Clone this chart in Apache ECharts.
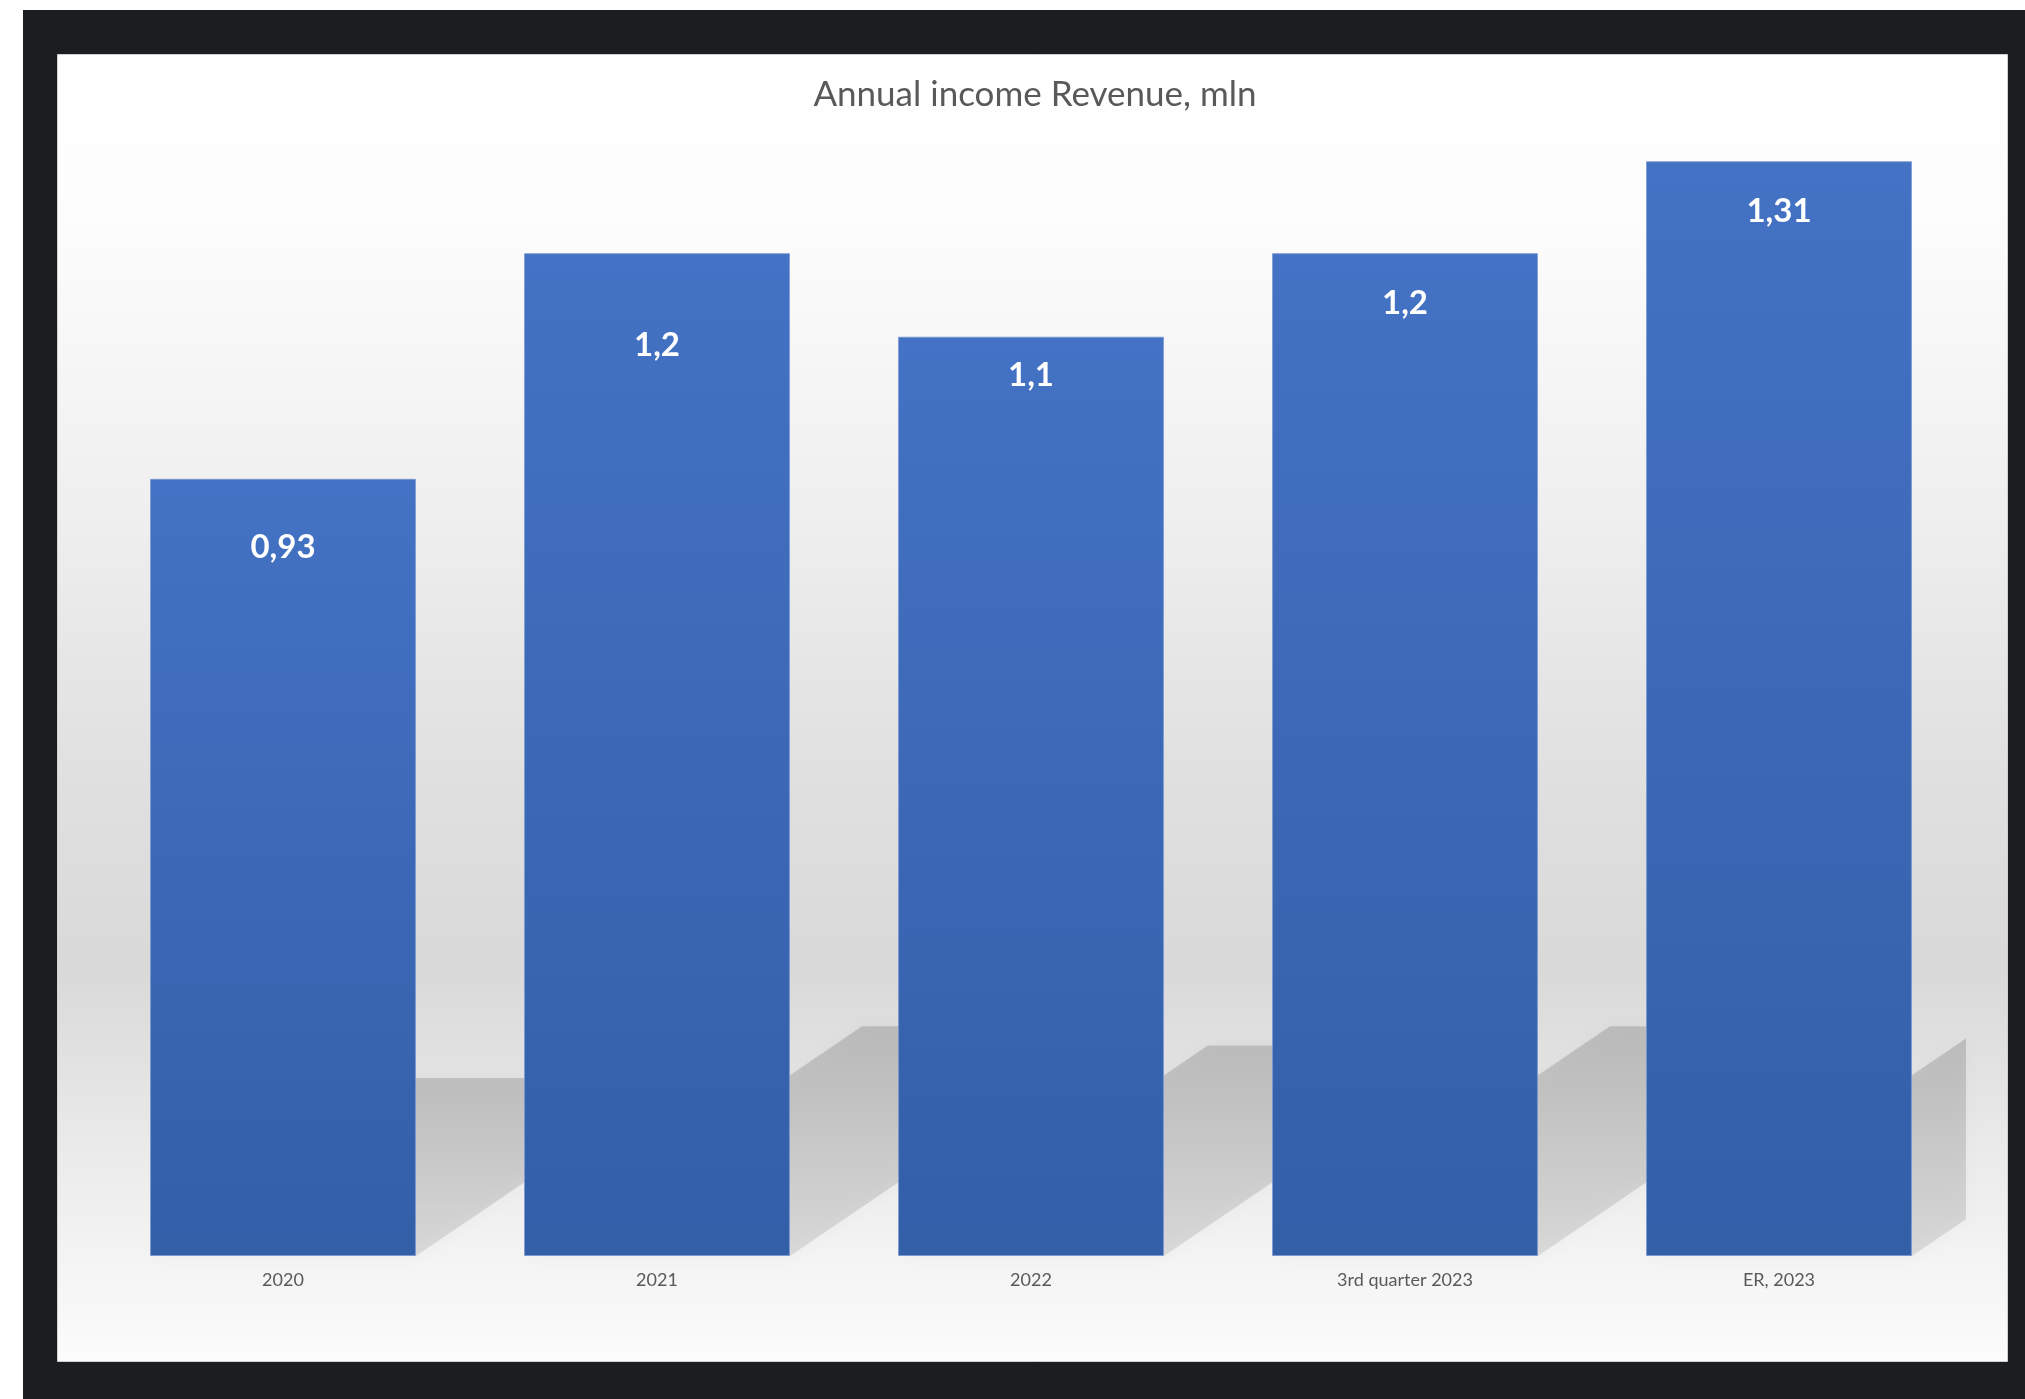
<!DOCTYPE html>
<html>
<head>
<meta charset="utf-8">
<style>
  html, body { margin: 0; padding: 0; background: #ffffff; width: 2025px; height: 1399px; overflow: hidden; }
  #chart { position: absolute; left: 23px; top: 10px; width: 2002px; height: 1389px; }
</style>
<script src="https://cdn.jsdelivr.net/npm/echarts@6/dist/echarts.min.js"></script>
</head>
<body>
<div id="chart"></div>
<script>
// ---- data ----
const titleText = 'Annual income Revenue, mln';
const categories = ['2020', '2021', '2022', '3rd quarter 2023', 'ER, 2023'];
const revenue = [0.93, 1.2, 1.1, 1.2, 1.31];
const valueLabels = ['0,93', '1,2', '1,1', '1,2', '1,31'];

// ---- style ----
const labelDistance = [52, 76, 22, 34, 34];
const barWidthRatio = 0.711;
const fontFamily = 'Lato, "Open Sans", "Noto Sans", sans-serif';

const chart = echarts.init(document.getElementById('chart'), null, { renderer: 'canvas' });

function clipRight(points, R) {
  const out = [];
  for (let i = 0; i < points.length; i++) {
    const a = points[i], b = points[(i + 1) % points.length];
    const ain = a[0] <= R, bin = b[0] <= R;
    if (ain) out.push(a);
    if (ain !== bin) {
      const t = (R - a[0]) / (b[0] - a[0]);
      out.push([R, a[1] + t * (b[1] - a[1])]);
    }
  }
  return out;
}

const option = {
  backgroundColor: '#1c1d21',
  animation: false,
  title: {
    text: titleText,
    left: 1007,
    top: 62,
    textAlign: 'center',
    textStyle: { fontFamily: fontFamily, fontSize: 35, fontWeight: 'normal', color: '#595959' }
  },
  graphic: [{
    type: 'rect',
    left: 34, top: 44, z: -10,
    shape: { width: 1950, height: 1307 },
    style: {
      fill: new echarts.graphic.LinearGradient(0, 0, 0, 1, [
        { offset: 0, color: '#ffffff' },
        { offset: 0.12, color: '#fdfdfd' },
        { offset: 0.35, color: '#efefef' },
        { offset: 0.55, color: '#e0e0e0' },
        { offset: 0.7, color: '#d9d9d9' },
        { offset: 0.85, color: '#ececec' },
        { offset: 1, color: '#fcfcfc' }
      ]),
      stroke: '#d0d0d0', lineWidth: 1
    }
  }],
  grid: { left: 73, right: 59, top: 76, bottom: 143, containLabel: false },
  xAxis: {
    type: 'category',
    data: categories,
    axisLine: { show: false },
    axisTick: { show: false },
    axisLabel: { color: '#595959', fontFamily: fontFamily, fontSize: 18, margin: 15 }
  },
  yAxis: {
    type: 'value', min: 0, max: 1.4, interval: 0.2,
    show: false,
    splitLine: { show: false }
  },
  series: [
    {
      type: 'custom',
      z: 1,
      silent: true,
      encode: { x: 0, y: 1 },
      data: revenue.map(function (v, i) { return [i, v]; }),
      renderItem: function (params, api) {
        const cs = params.coordSys;
        const idx = api.value(0);
        const base = api.coord([idx, 0]);
        const top = api.coord([idx, api.value(1)]);
        const bw = api.size([1, 0])[0] * barWidthRatio;
        const h = base[1] - top[1];
        const x1 = base[0] - bw / 2, x2 = base[0] + bw / 2, y0 = base[1];
        const sh = h * 0.229, dx = h * 0.337;
        let pts = [[x1, y0], [x2, y0], [x2 + dx, y0 - sh], [x1 + dx, y0 - sh]];
        pts = clipRight(pts, cs.x + cs.width);
        return {
          type: 'polygon',
          shape: { points: pts },
          style: {
            fill: new echarts.graphic.LinearGradient(0, 0, 0, 1, [
              { offset: 0, color: 'rgba(100,100,100,0.27)' },
              { offset: 1, color: 'rgba(100,100,100,0.17)' }
            ]),
            shadowBlur: 16,
            shadowColor: 'rgba(100,100,100,0.2)'
          }
        };
      }
    },
    {
      type: 'bar',
      z: 2,
      data: revenue.map(function (v, i) {
        return {
          value: v,
          label: { distance: labelDistance[i] }
        };
      }),
      barWidth: (barWidthRatio * 100) + '%',
      itemStyle: {
        color: new echarts.graphic.LinearGradient(0, 0, 0, 1, [
          { offset: 0, color: '#4472c4' },
          { offset: 1, color: '#335ea8' }
        ]),
        borderColor: 'rgba(120,150,210,0.8)',
        borderWidth: 1
      },
      label: {
        show: true,
        position: 'insideTop',
        formatter: function (p) { return valueLabels[p.dataIndex]; },
        color: '#ffffff',
        fontFamily: fontFamily,
        fontSize: 33,
        fontWeight: 'bold'
      }
    }
  ]
};
chart.setOption(option);
</script>
</body>
</html>
